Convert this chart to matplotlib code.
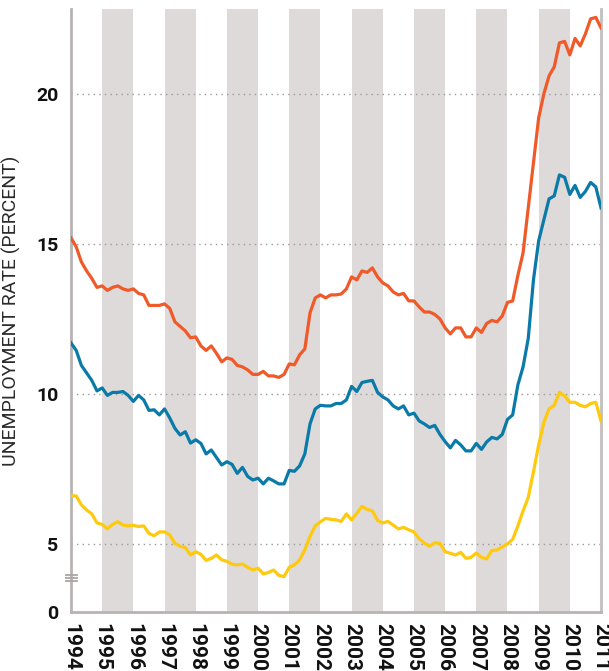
import numpy as np
import matplotlib
matplotlib.use("Agg")
import matplotlib.pyplot as plt

# ---- data (bimonthly readings, decimal years) ----
start_year = 1994
end_year = 2011
samples_per_year = 6

orange = [15.2, 14.9, 14.4, 14.1, 13.85, 13.55, 13.6, 13.45, 13.55, 13.6, 13.5, 13.45,
          13.5, 13.35, 13.3, 12.95, 12.95, 12.95, 13.0, 12.85, 12.4, 12.25, 12.1, 11.87,
          11.9, 11.6, 11.45, 11.6, 11.35, 11.07, 11.2, 11.15, 10.95, 10.9, 10.8, 10.65,
          10.65, 10.75, 10.6, 10.6, 10.55, 10.65, 11.0, 10.97, 11.3, 11.5, 12.7, 13.2,
          13.3, 13.2, 13.3, 13.3, 13.33, 13.5, 13.9, 13.8, 14.1, 14.05, 14.2, 13.9,
          13.7, 13.6, 13.4, 13.3, 13.35, 13.1, 13.1, 12.9, 12.73, 12.73, 12.65, 12.5,
          12.2, 12.0, 12.2, 12.2, 11.9, 11.9, 12.2, 12.05, 12.35, 12.45, 12.4, 12.6,
          13.05, 13.1, 13.95, 14.7, 16.2, 17.7, 19.2, 20.0, 20.6, 20.9, 21.7, 21.75,
          21.3, 21.85, 21.6, 22.0, 22.5, 22.55, 22.2]

blue = [11.7, 11.45, 10.95, 10.7, 10.45, 10.1, 10.2, 9.95, 10.05, 10.05, 10.08, 9.95,
        9.75, 9.95, 9.8, 9.45, 9.47, 9.3, 9.5, 9.2, 8.85, 8.63, 8.74, 8.36,
        8.47, 8.35, 8.0, 8.13, 7.88, 7.63, 7.74, 7.65, 7.35, 7.55, 7.25, 7.13,
        7.19, 7.0, 7.19, 7.1, 7.0, 7.0, 7.45, 7.42, 7.6, 8.0, 9.0, 9.5,
        9.62, 9.6, 9.6, 9.68, 9.68, 9.8, 10.25, 10.08, 10.38, 10.42, 10.45, 10.05,
        9.9, 9.8, 9.6, 9.5, 9.6, 9.3, 9.36, 9.1, 9.0, 8.88, 8.95, 8.65,
        8.41, 8.2, 8.45, 8.3, 8.1, 8.1, 8.35, 8.15, 8.4, 8.55, 8.5, 8.65,
        9.15, 9.3, 10.3, 10.9, 11.85, 13.8, 15.1, 15.8, 16.5, 16.6, 17.3, 17.22,
        16.65, 16.95, 16.55, 16.75, 17.05, 16.9, 16.2]

yellow = [6.6, 6.6, 6.3, 6.13, 6.0, 5.7, 5.65, 5.5, 5.65, 5.74, 5.63, 5.6,
          5.62, 5.58, 5.6, 5.35, 5.27, 5.4, 5.4, 5.3, 5.02, 4.92, 4.88, 4.63,
          4.74, 4.65, 4.45, 4.52, 4.63, 4.47, 4.42, 4.32, 4.3, 4.33, 4.22, 4.13,
          4.19, 4.0, 4.05, 4.13, 3.95, 3.91, 4.22, 4.3, 4.47, 4.8, 5.25, 5.6,
          5.74, 5.85, 5.82, 5.8, 5.75, 6.0, 5.8, 6.02, 6.25, 6.15, 6.1, 5.78,
          5.7, 5.75, 5.63, 5.5, 5.55, 5.47, 5.4, 5.17, 5.03, 4.92, 5.04, 5.02,
          4.74, 4.69, 4.63, 4.72, 4.52, 4.55, 4.7, 4.55, 4.5, 4.78, 4.8, 4.9,
          5.0, 5.15, 5.6, 6.1, 6.55, 7.4, 8.3, 9.05, 9.5, 9.62, 10.05, 9.93,
          9.72, 9.72, 9.62, 9.57, 9.68, 9.72, 9.1]

year_labels = [str(y) for y in range(start_year, end_year + 1)]
shaded_years = [1995, 1997, 1999, 2001, 2003, 2005, 2007, 2009]
ytick_values = [5, 10, 15, 20]
y_bottom = 2.73   # axis is broken: bottom edge labelled "0"
y_top = 22.83

t = start_year + np.arange(len(orange)) / samples_per_year

# ---- figure ----
plt.rcParams['font.family'] = ['Roboto', 'DejaVu Sans']
fig = plt.figure(figsize=(6.09, 6.71), dpi=100)
ax = fig.add_axes([71/609, 1 - 612/671, 530/609, 603/671])

band_color = '#dedada'
for y in shaded_years:
    ax.axvspan(y, y + 1, color=band_color, lw=0, zorder=0)

for v in ytick_values:
    ax.axhline(v, color='#9a9a9a', lw=1.0, ls=(0, (1, 3)), zorder=1)

ax.plot(t, orange, color='#f05a28', lw=2.3, zorder=3)
ax.plot(t, blue, color='#0a7aa8', lw=2.3, zorder=3)
ax.plot(t, yellow, color='#ffc90e', lw=2.3, zorder=3)

ax.set_xlim(start_year, end_year)
ax.set_ylim(y_bottom, y_top)

ax.set_xticks(range(start_year, end_year + 1))
ax.set_xticklabels(year_labels, rotation=-90, fontsize=15, fontweight='bold',
                   ha='center', va='top')
ax.set_yticks([y_bottom] + ytick_values)
ax.set_yticklabels(['0'] + [str(v) for v in ytick_values], fontsize=14,
                   fontweight='bold')
ax.tick_params(axis='both', length=0, colors='#111111')
ax.tick_params(axis='x', pad=8)
ax.tick_params(axis='y', pad=9)

for side in ['left', 'bottom']:
    ax.spines[side].set_color('#b9b3b3')
    ax.spines[side].set_linewidth(2.0)
ax.spines['right'].set_color('#c4bebe')
ax.spines['right'].set_linewidth(2.0)
ax.spines['top'].set_visible(False)

# axis break marks
brk = 1.13 / (y_top - y_bottom)
for dy in [-0.0048, 0.0, 0.0048]:
    ax.plot([-0.01, 0.011], [brk + dy, brk + dy], transform=ax.transAxes,
            color='#aaa4a4', lw=1.3, clip_on=False, zorder=5)

ax.set_ylabel('UNEMPLOYMENT RATE (PERCENT)', fontsize=14, fontweight='normal',
              color='#2a2a2a', labelpad=11)

fig.savefig('out.png', dpi=100)
